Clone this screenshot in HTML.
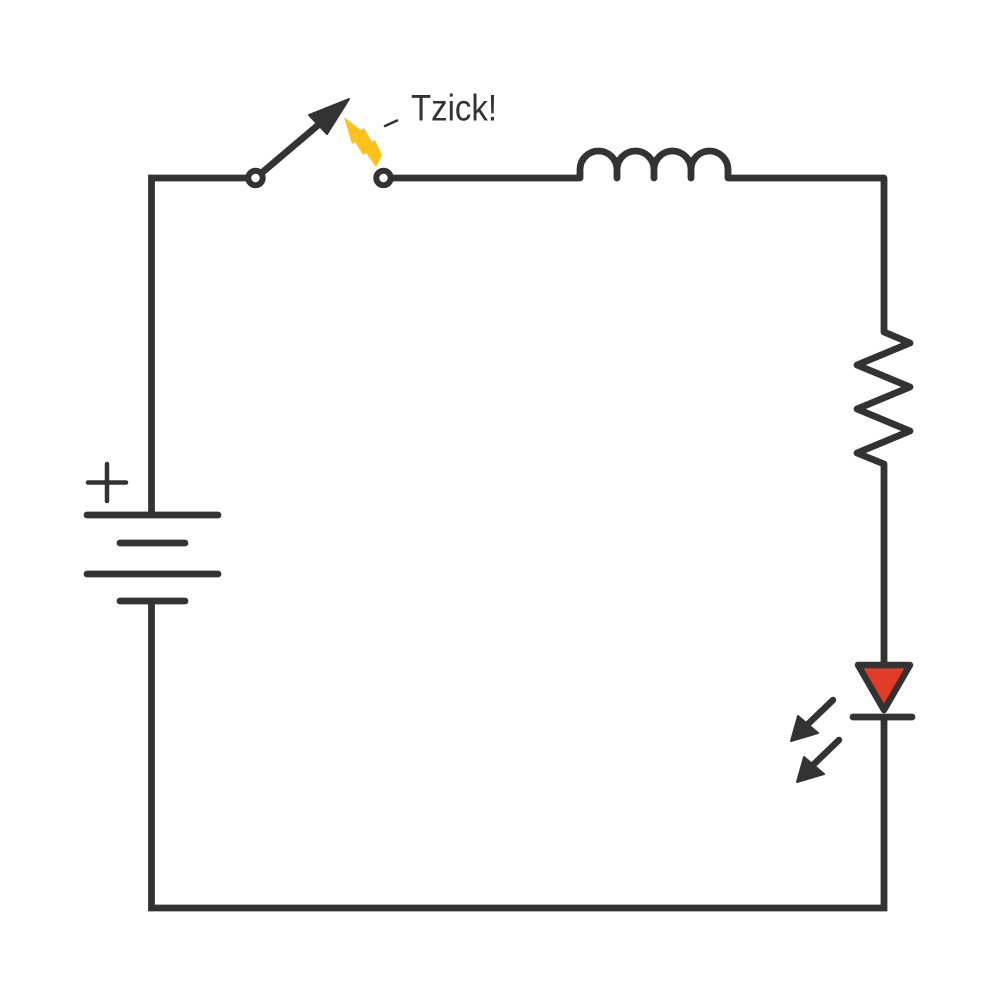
<!DOCTYPE html>
<html>
<head>
<meta charset="utf-8">
<style>
  html, body { margin: 0; padding: 0; background: #ffffff; }
  svg { display: block; }
</style>
</head>
<body>
<svg width="1000" height="1000" viewBox="0 0 1000 1000" xmlns="http://www.w3.org/2000/svg">
  <rect width="1000" height="1000" fill="#ffffff"/>
  <g fill="none" stroke="#333333" stroke-width="6.8" stroke-linejoin="miter">
    <path d="M248,178 H151.5 V515"/>
    <path d="M151.5,601 V908 H884 V717"/>
    <path d="M391.5,178 H580 V169.5 A18.5,18.5 0 0 1 617,169.5 V178 V169.5 A18.5,18.5 0 0 1 654,169.5 V178 V169.5 A18.5,18.5 0 0 1 691,169.5 V178 V169.5 A18.5,18.5 0 0 1 728,169.5 V178 H884 V332 L910,343 L857,365 L910,387 L857,409 L910,431 L857,453 L884,464 V664" stroke-linejoin="round"/>
  </g>

  <circle cx="255.5" cy="178" r="7.2" fill="#ffffff" stroke="#333333" stroke-width="6"/>
  <circle cx="383.5" cy="178" r="7.2" fill="#ffffff" stroke="#333333" stroke-width="6"/>
  <line x1="261" y1="173.5" x2="320" y2="123.5" stroke="#333333" stroke-width="6.8"/>
  <polygon points="349,99 309,115 327,134" fill="#333333" stroke="#333333" stroke-width="2" stroke-linejoin="round"/>

  <polygon points="344,117 361,130 364,128 372,142 375,140 382,155 376,167 366,153 363,155 355,142 352,144" fill="#fcc21b"/>

  <line x1="385" y1="126" x2="397" y2="120.5" stroke="#333333" stroke-width="2.6" stroke-linecap="round"/>
  <text x="411" y="120.5" font-family="Liberation Sans, sans-serif" font-size="37.5" fill="#333333" textLength="86" lengthAdjust="spacingAndGlyphs">Tzick!</text>

  <g stroke="#333333" stroke-width="6.8" stroke-linecap="round">
    <line x1="87" y1="515" x2="218" y2="515"/>
    <line x1="120" y1="543" x2="185" y2="543"/>
    <line x1="87" y1="574" x2="218" y2="574"/>
    <line x1="120" y1="601" x2="185" y2="601"/>
  </g>
  <g stroke="#333333" stroke-width="4.5" stroke-linecap="round">
    <line x1="88" y1="482.5" x2="126" y2="482.5"/>
    <line x1="107" y1="464" x2="107" y2="501"/>
  </g>

  <polygon points="858,665 910,665 884,710" fill="#e03c28" stroke="#333333" stroke-width="6.5" stroke-linejoin="round"/>
  <line x1="853" y1="717" x2="912" y2="717" stroke="#333333" stroke-width="6.8" stroke-linecap="round"/>

  <line x1="833" y1="700" x2="806" y2="726" stroke="#333333" stroke-width="6.5" stroke-linecap="round"/>
  <polygon points="791,741 798,716 818,733" fill="#333333" stroke="#333333" stroke-width="2" stroke-linejoin="round"/>
  <line x1="839" y1="740" x2="812" y2="766" stroke="#333333" stroke-width="6.5" stroke-linecap="round"/>
  <polygon points="797,782 804,757 824,774" fill="#333333" stroke="#333333" stroke-width="2" stroke-linejoin="round"/>
</svg>
</body>
</html>
